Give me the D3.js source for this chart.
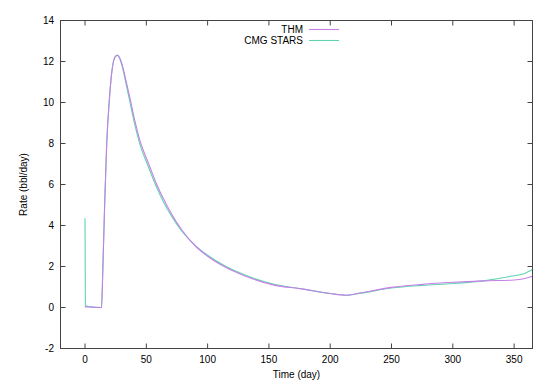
<!DOCTYPE html>
<html>
<head>
<meta charset="utf-8">
<script src="https://d3js.org/d3.v7.min.js"></script>
<style>
    body { margin: 0; background: #fff; }
    text { font-family: "Liberation Sans", Arial, sans-serif; font-size: 10px; fill: #000; }
    .border { fill: none; stroke: #444; stroke-width: 1; }
    .tick-line { stroke: #444; stroke-width: 1; }
    .series { fill: none; stroke-width: 1.1; }
</style>
</head>
<body>
<svg></svg>
<script>
'use strict';

// THM 曲线
var thmTime = [0, 0.5, 5, 13.5, 14.5, 16.1, 17.7, 19.8, 21.5, 23.2, 24.8, 26.5, 28.2, 30.3, 33.5, 36.7, 40.5, 45, 52, 58.5, 64, 70, 79, 90, 100, 115, 130, 155, 175, 200, 213, 225, 250, 275, 300, 325, 350, 358, 365];
var thmRate = [0.05, 0.03, 0.02, 0.0, 1.8, 5.2, 8.0, 10.1, 11.3, 12.0, 12.25, 12.32, 12.2, 11.85, 11.05, 10.2, 9.15, 8.1, 7.0, 6.0, 5.3, 4.62, 3.78, 3.0, 2.5, 1.95, 1.55, 1.08, 0.92, 0.68, 0.6, 0.72, 0.98, 1.13, 1.23, 1.3, 1.34, 1.4, 1.52];

// CMG STARS 曲线
var cmgTime = [0, 0.3, 5, 13.5, 14.5, 16.1, 17.7, 19.8, 21.5, 23.2, 24.8, 26.5, 28.2, 30.3, 33.5, 36.7, 40.5, 45, 52, 58.5, 64, 70, 79, 90, 100, 115, 130, 155, 175, 200, 213, 225, 250, 275, 300, 325, 350, 358, 365];
var cmgRate = [4.35, 0.08, 0.03, 0.0, 1.8, 5.2, 8.0, 10.1, 11.3, 12.0, 12.25, 12.3, 12.16, 11.76, 10.9, 10.0, 8.95, 7.92, 6.82, 5.85, 5.15, 4.52, 3.72, 3.02, 2.55, 2.0, 1.6, 1.12, 0.93, 0.68, 0.6, 0.7, 0.95, 1.08, 1.17, 1.3, 1.55, 1.65, 1.85];

var xTicks = [0, 50, 100, 150, 200, 250, 300, 350];
var yTicks = [-2, 0, 2, 4, 6, 8, 10, 12, 14];
var seriesNames = ['THM', 'CMG STARS'];
var seriesColors = ['#c77fe8', '#5fd3b1'];

var width = 550, height = 387;
var plotLeft = 60.5, plotRight = 532.5, plotTop = 20.5, plotBottom = 348.5;
var tickLen = 5;

var svg = d3.select('svg').attr('width', width).attr('height', height);

var x = d3.scaleLinear().domain([-20, 365]).range([plotLeft, plotRight]);
var y = d3.scaleLinear().domain([-2, 14]).range([plotBottom, plotTop]);

// 刻度线 (内向, 上下左右都有)
var ticks = svg.append('g');
xTicks.forEach(function (d) {
    ticks.append('line').attr('class', 'tick-line')
        .attr('x1', x(d)).attr('x2', x(d)).attr('y1', plotBottom).attr('y2', plotBottom - tickLen);
    ticks.append('line').attr('class', 'tick-line')
        .attr('x1', x(d)).attr('x2', x(d)).attr('y1', plotTop).attr('y2', plotTop + tickLen);
});
yTicks.forEach(function (d) {
    ticks.append('line').attr('class', 'tick-line')
        .attr('x1', plotLeft).attr('x2', plotLeft + tickLen).attr('y1', y(d)).attr('y2', y(d));
    ticks.append('line').attr('class', 'tick-line')
        .attr('x1', plotRight).attr('x2', plotRight - tickLen).attr('y1', y(d)).attr('y2', y(d));
});

// 刻度文字
svg.append('g').selectAll('text')
    .data(xTicks)
    .enter()
        .append('text')
        .attr('x', function (d) { return x(d); })
        .attr('y', plotBottom + 14.5)
        .attr('text-anchor', 'middle')
        .text(function (d) { return d; });

svg.append('g').selectAll('text')
    .data(yTicks)
    .enter()
        .append('text')
        .attr('x', plotLeft - 6.5)
        .attr('y', function (d) { return y(d) + 3.6; })
        .attr('text-anchor', 'end')
        .text(function (d) { return d; });

// 轴标题
svg.append('text').attr('x', (plotLeft + plotRight) / 2).attr('y', 377.5)
    .attr('text-anchor', 'middle').text('Time (day)');
svg.append('text')
    .attr('transform', 'translate(27,' + ((plotTop + plotBottom) / 2) + ') rotate(-90)')
    .attr('text-anchor', 'middle').text('Rate (bbl/day)');

// 曲线
var line = d3.line()
    .x(function (d) { return x(d[0]); })
    .y(function (d) { return y(d[1]); })
    .curve(d3.curveMonotoneX);

var seriesData = [
    d3.zip(thmTime, thmRate),
    d3.zip(cmgTime, cmgRate)
];

svg.append('g').selectAll('path')
    .data([1, 0])
    .enter()
        .append('path')
        .attr('class', 'series')
        .attr('stroke', function (i) { return seriesColors[i]; })
        .attr('d', function (i) { return line(seriesData[i]); });

// 图例
var legend = svg.append('g');
seriesNames.forEach(function (name, i) {
    var ly = 29.5 + i * 11;
    legend.append('text').attr('x', 303).attr('y', ly + 3.6)
        .attr('text-anchor', 'end').text(name);
    legend.append('line')
        .attr('x1', 309).attr('x2', 339).attr('y1', ly).attr('y2', ly)
        .attr('stroke', seriesColors[i]).attr('stroke-width', 1.1);
});

// 外边框
svg.append('rect').attr('class', 'border')
    .attr('x', plotLeft).attr('y', plotTop)
    .attr('width', plotRight - plotLeft).attr('height', plotBottom - plotTop);
</script>
</body>
</html>
